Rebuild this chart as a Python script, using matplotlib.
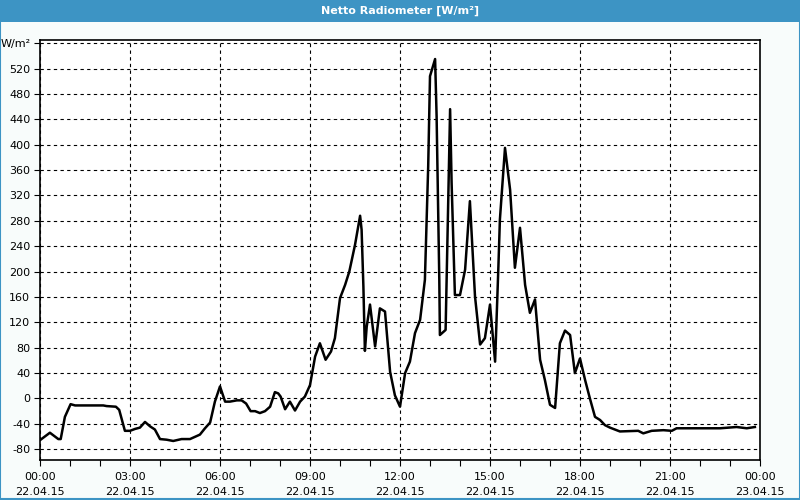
import matplotlib
matplotlib.use('Agg')
import matplotlib.pyplot as plt
from matplotlib.patches import Rectangle

# time in hours since 22.04.15 00:00, value in W/m²
hours = [0.02, 0.33, 0.61, 0.69, 0.83, 1.02, 1.17, 2.11, 2.22, 2.53, 2.64, 2.83, 3.0,
         3.17, 3.33, 3.5, 3.67, 3.83, 4.0, 4.22, 4.44, 4.72, 5.0, 5.33, 5.5, 5.67, 5.83,
         6.0, 6.17, 6.33, 6.56, 6.72, 6.87, 7.02, 7.17, 7.33, 7.5, 7.67, 7.83, 7.94,
         8.02, 8.17, 8.33, 8.5, 8.67, 8.83, 9.0, 9.17, 9.33, 9.52, 9.7, 9.83, 10.0,
         10.17, 10.31, 10.5, 10.67, 10.72, 10.78, 10.83, 10.89, 11.0, 11.17, 11.33,
         11.5, 11.67, 11.83, 12.0, 12.17, 12.33, 12.5, 12.67, 12.83, 12.94, 13.0,
         13.17, 13.22, 13.31, 13.33, 13.52, 13.61, 13.67, 13.72, 13.83, 14.0, 14.17,
         14.33, 14.5, 14.67, 14.83, 15.0, 15.17, 15.28, 15.33, 15.5, 15.67, 15.83,
         16.0, 16.17, 16.33, 16.5, 16.67, 16.83, 17.0, 17.17, 17.33, 17.5, 17.67,
         17.83, 18.0, 18.17, 18.33, 18.5, 18.67, 18.83, 19.0, 19.33, 19.94, 20.11,
         20.39, 20.78, 21.06, 21.22, 22.0, 22.67, 23.22, 23.56, 23.83]
values = [-65, -54, -64, -64, -29, -9, -11, -11, -12, -13, -18, -51, -51,
          -48, -46, -37, -44, -49, -64, -65, -67, -64, -64, -57, -47, -38, -5,
          19, -5, -5, -3, -3, -8, -20, -20, -23, -20, -13, 10, 8,
          3, -17, -5, -19, -5, 3, 21, 66, 87, 61, 74, 95, 158,
          179, 200, 242, 288, 266, 176, 75, 113, 148, 82, 142,
          137, 42, 5, -13, 40, 58, 103, 124, 187, 366, 508,
          535, 445, 187, 100, 108, 319, 456, 340, 163, 163, 203,
          311, 161, 85, 95, 148, 58, 208, 282, 395, 329, 206,
          269, 179, 135, 156, 61, 29, -10, -15, 87, 107, 100,
          40, 63, 29, 0, -29, -34, -42, -46, -52, -51, -55,
          -51, -50, -51, -47, -47, -47, -45, -47, -45]

xticks = [0, 3, 6, 9, 12, 15, 18, 21, 24]
xlabels = ['00:00\n22.04.15', '03:00\n22.04.15', '06:00\n22.04.15', '09:00\n22.04.15',
           '12:00\n22.04.15', '15:00\n22.04.15', '18:00\n22.04.15', '21:00\n22.04.15',
           '00:00\n23.04.15']
yticks = list(range(-80, 561, 40))
ylabels = [str(v) for v in yticks[:-1]] + ['W/m²']

fig = plt.figure(figsize=(8, 5), dpi=100)
fig.patch.set_facecolor('#f8fcfb')

# title bar and frame
fig.patches.append(Rectangle((0, 0.956), 1, 0.044, transform=fig.transFigure,
                             facecolor='#3d94c4', edgecolor='none'))
fig.patches.append(Rectangle((0.0006, 0.002), 0.9988, 0.996, transform=fig.transFigure,
                             facecolor='none', edgecolor='#3d94c4', linewidth=1.5))
fig.text(0.5, 0.978, 'Netto Radiometer [W/m²]', color='white', fontsize=8,
         fontweight='bold', ha='center', va='center')

ax = fig.add_axes([0.05, 0.08, 0.9, 0.84])
ax.set_facecolor('white')
ax.plot(hours, values, color='black', linewidth=1.8)

ax.set_xlim(0, 24)
ax.set_ylim(-97, 565)
ax.set_xticks(xticks)
ax.set_xticklabels(xlabels, fontsize=8, linespacing=1.6)
ax.set_xticks(range(0, 25), minor=True)
ax.set_yticks(yticks)
ax.set_yticklabels(ylabels, fontsize=8)
ax.tick_params(axis='both', which='both', direction='out', length=4, width=0.8, pad=3)
ax.tick_params(axis='x', pad=5)

ax.grid(True, which='major', color='black', linestyle=(0, (3, 3)), linewidth=0.8)
for s in ax.spines.values():
    s.set_linewidth(1.2)

fig.savefig('out.png', dpi=100, facecolor=fig.get_facecolor())
